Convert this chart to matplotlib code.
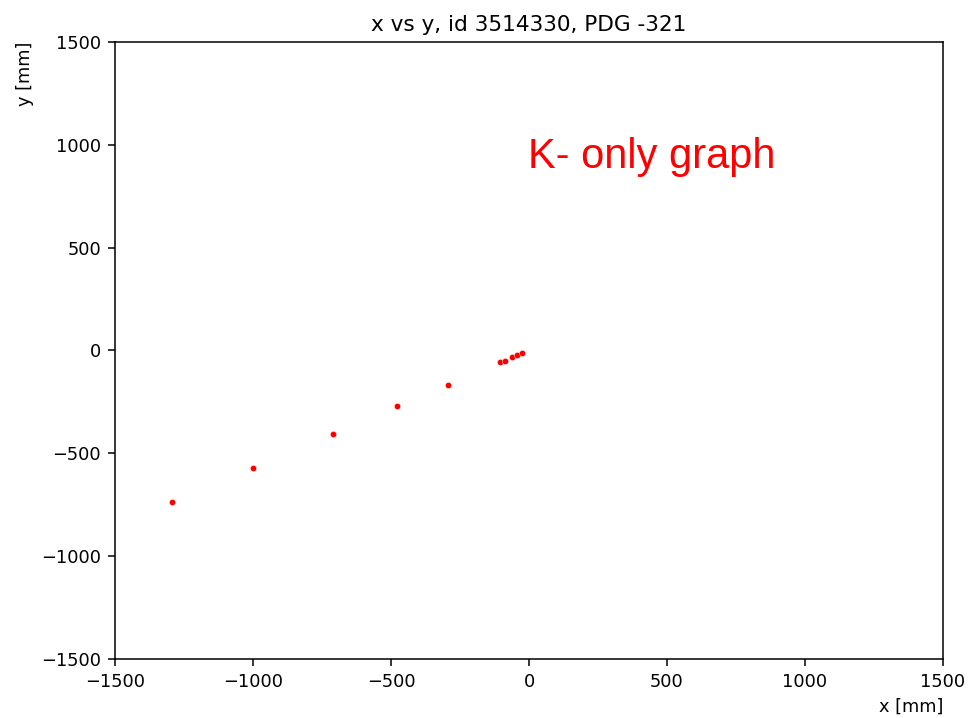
import numpy as np
import matplotlib.pyplot as plt

# hit positions
x_mm = [-1292, -1000, -711, -478, -295, -105, -86, -62, -43, -24]
y_mm = [-738, -570, -406, -270, -166, -57, -50, -33, -22, -11]

x_ticks = [-1500, -1000, -500, 0, 500, 1000, 1500]
y_ticks = [-1500, -1000, -500, 0, 500, 1000, 1500]

fig = plt.figure(figsize=(9.7, 7.18), dpi=100)
ax = fig.add_axes([0.1186, 0.0822, 0.8536, 0.8593])

ax.plot(x_mm, y_mm, 'o', color='red', markersize=4.5, markeredgecolor='white', markeredgewidth=0.3)

ax.set_xlim(-1500, 1500)
ax.set_ylim(-1500, 1500)
ax.set_xticks(x_ticks)
ax.set_yticks(y_ticks)
ax.tick_params(labelsize=12.8, length=5, width=1.1, pad=5)
for s in ax.spines.values():
    s.set_linewidth(1.1)

ax.set_xlabel('x [mm]', loc='right', fontsize=12.8, labelpad=5)
ax.set_ylabel('y [mm]', loc='top', fontsize=12.8, labelpad=5)
ax.set_title('x vs y, id 3514330, PDG -321', fontsize=15.6, pad=8)

fig.text(0.544, 0.766, 'K- only graph', color='red', fontsize=30,
         family=['Liberation Sans', 'DejaVu Sans'])

fig.savefig('out.png')
